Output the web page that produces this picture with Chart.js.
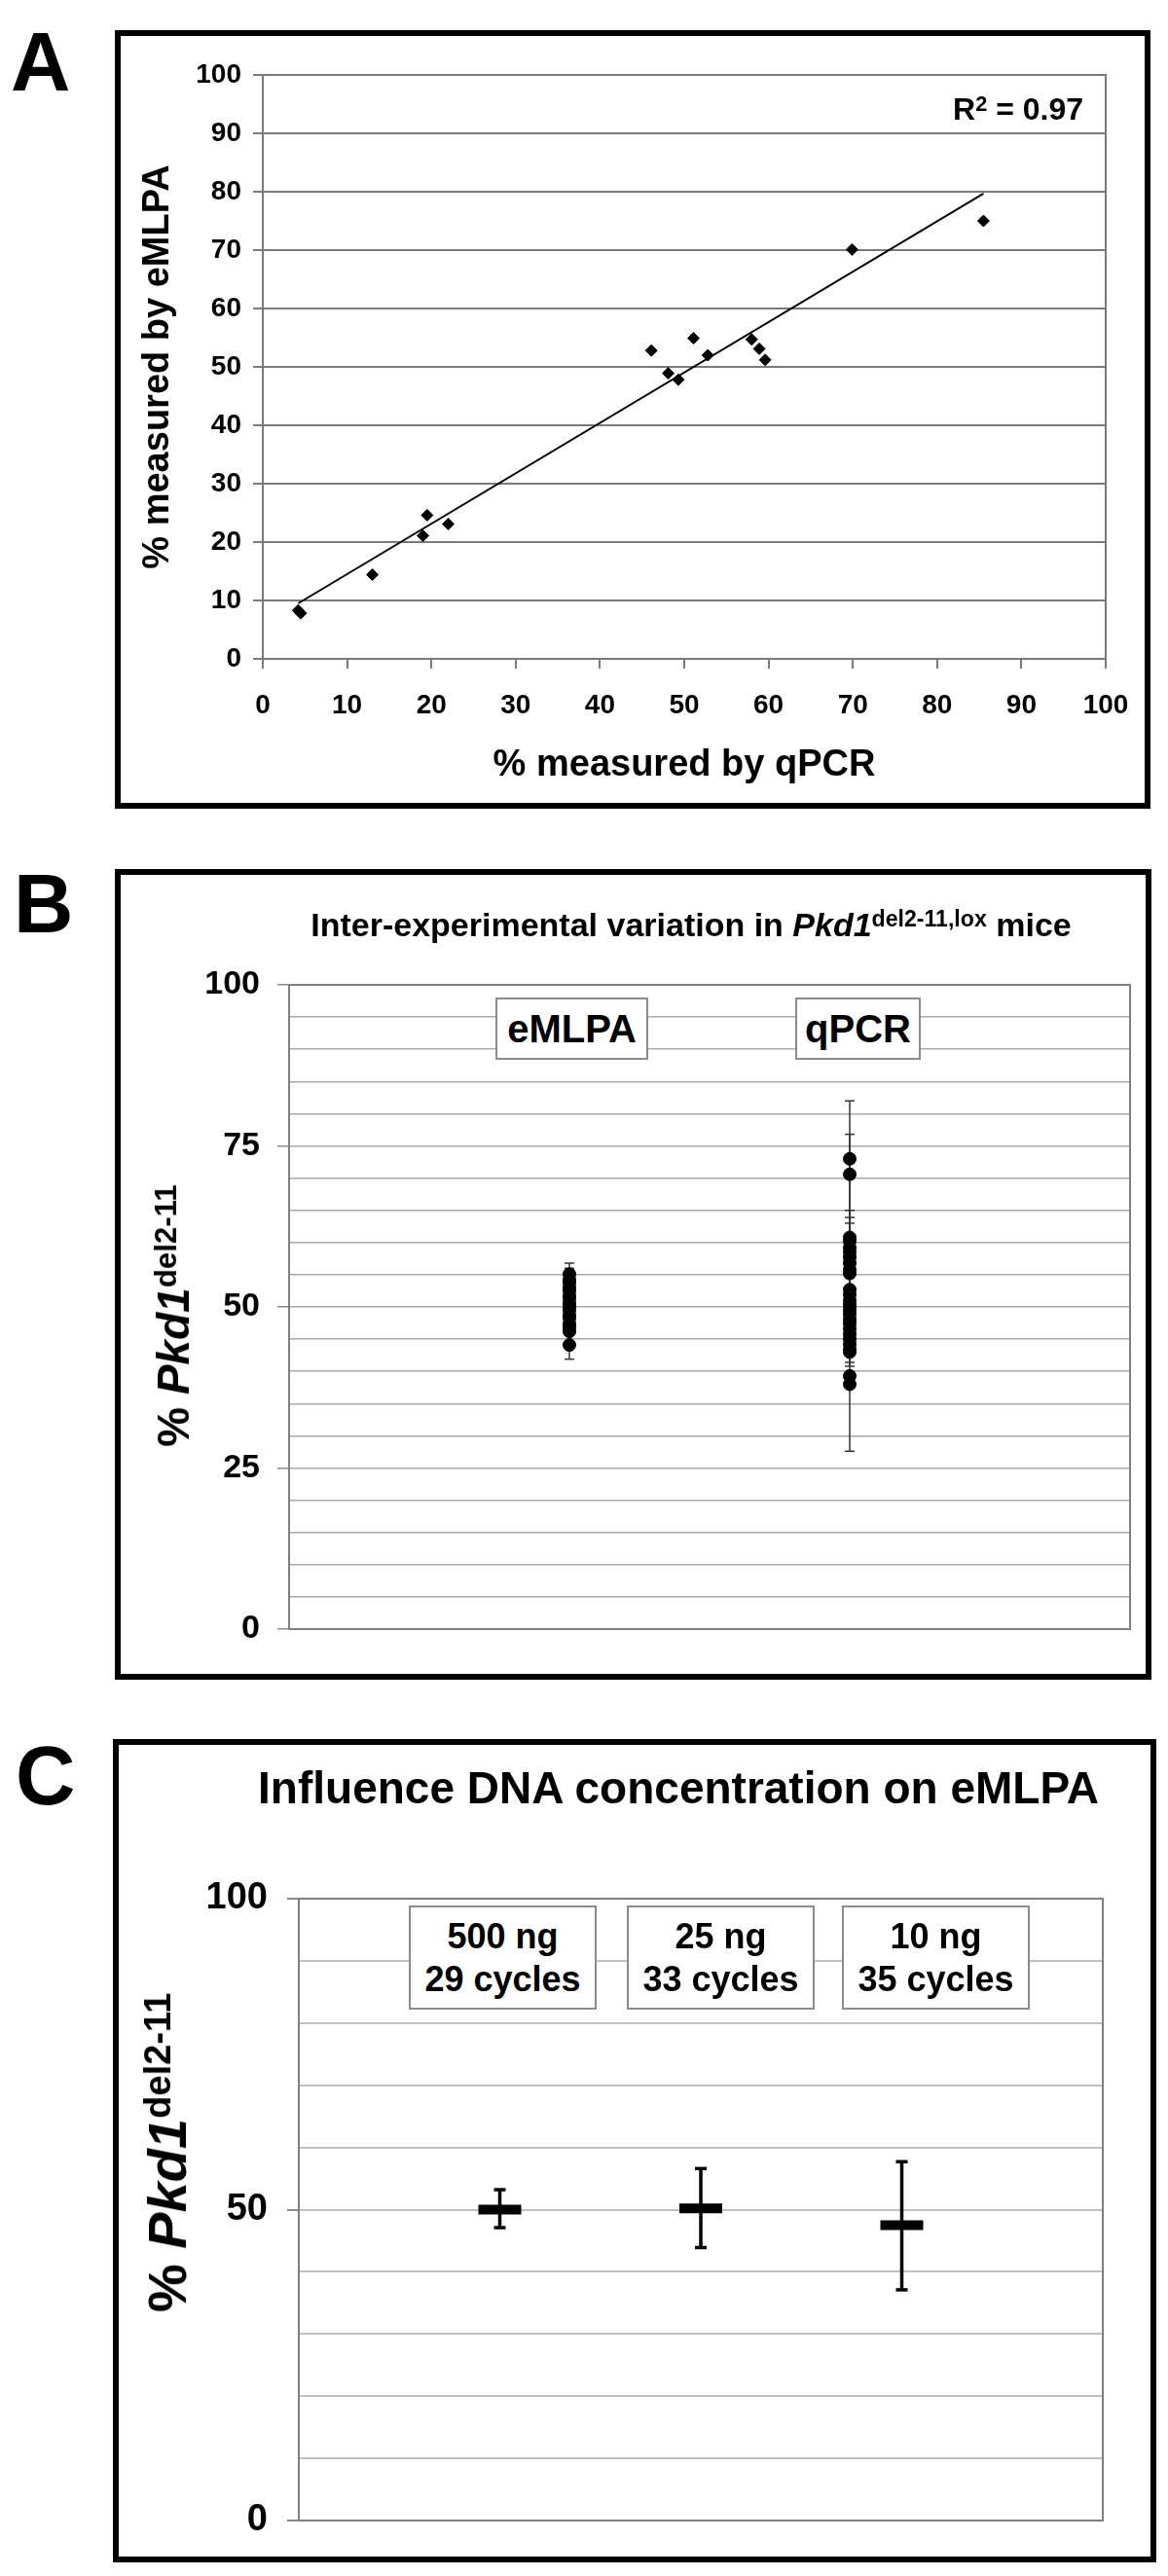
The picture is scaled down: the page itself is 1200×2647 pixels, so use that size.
<!DOCTYPE html>
<html>
<head>
<meta charset="utf-8">
<script src="https://cdn.jsdelivr.net/npm/chart.js@4.4.1/dist/chart.umd.min.js"></script>
<style>
  body { margin: 0; background: #fff; }
  #page { position: relative; width: 1200px; height: 2647px; font-family: "Liberation Sans", Arial, sans-serif; font-weight: bold; color: #000; }
  .frame { position: absolute; border: 6px solid #000; box-sizing: border-box; }
  .wrap { position: absolute; left: 0; width: 1200px; }
  .letter { position: absolute; font-size: 85px; line-height: 1; }
  .txt { position: absolute; line-height: 1; white-space: nowrap; transform: translate(-50%, -50%); }
  .rot { transform: translate(-50%, -50%) rotate(-90deg); }
  .box { position: absolute; background: #fff; border: 2px solid #8c8c8c; box-sizing: border-box; text-align: center;
         display: flex; flex-direction: column; justify-content: center; white-space: nowrap; }
  sup { font-size: 0.68em; vertical-align: 0.42em; line-height: 0; }
</style>
</head>
<body>
<div id="page">
  <div class="frame" style="left:118px;top:31px;width:1064px;height:800px"></div>
  <div class="frame" style="left:118px;top:893px;width:1065px;height:833px"></div>
  <div class="frame" style="left:116px;top:1787px;width:1072px;height:846px"></div>

  <div class="wrap" style="top:0;height:840px"><canvas id="chartA" width="1200" height="840"></canvas></div>
  <div class="wrap" style="top:880px;height:860px"><canvas id="chartB" width="1200" height="860"></canvas></div>
  <div class="wrap" style="top:1760px;height:887px"><canvas id="chartC" width="1200" height="887"></canvas></div>

  <div class="letter" style="left:11px;top:21px">A</div>
  <div class="letter" style="left:14px;top:886px">B</div>
  <div class="letter" style="left:16px;top:1782px">C</div>

  <div class="txt" style="left:1046px;top:112px;font-size:32px">R<sup>2</sup> = 0.97</div>

  <div class="txt" style="left:710px;top:950px;font-size:34px">Inter-experimental variation in <i>Pkd1</i><sup>del2-11,lox</sup> mice</div>
  <div class="txt rot" style="left:178px;top:1352px;font-size:46px">% <i>Pkd1</i><sup>del2-11</sup></div>

  <div class="txt" style="left:697px;top:1837px;font-size:46px">Influence DNA concentration on eMLPA</div>
  <div class="txt rot" style="left:172px;top:2212px;font-size:56px">% <i>Pkd1</i><sup>del2-11</sup></div>
  <div id="boxes"></div>
</div>

<script>
// Panel A: eMLPA vs qPCR, one point per sample
const qpcrPct = [4.2, 4.5, 13.0, 19.0, 19.5, 22.0, 46.1, 48.1, 49.3, 51.1, 52.8, 58.0, 58.9, 59.6, 69.9, 85.5];
const emlpaPct = [8.3, 7.8, 14.4, 21.1, 24.6, 23.1, 52.8, 48.9, 47.8, 54.9, 52.0, 54.7, 53.1, 51.2, 70.1, 75.0];
// trend line end points
const trendQpcr = [4.2, 85.5];
const trendEmlpa = [9.5, 79.7];

// Panel B: repeated measurements per method
const methods = ['eMLPA', 'qPCR'];
const emlpaRuns = [55.1, 54.2, 53.8, 53.0, 52.5, 51.7, 51.4, 50.6, 50.1, 49.5, 48.7, 48.3, 47.4, 46.9, 46.2, 44.1];
const qpcrRuns = [73.0, 70.6, 60.8, 60.2, 59.2, 58.5, 57.7, 56.8, 55.8, 55.2, 52.7, 51.9, 51.0, 50.3, 49.6,
                  48.9, 48.1, 47.4, 46.6, 45.8, 45.0, 44.2, 43.4, 43.0, 39.3, 38.0];
const emlpaBars = [[41.9, 56.8], [44.6, 56.0]];
const qpcrBars = [[27.6, 82.0], [40.8, 76.8], [41.4, 65.0], [44.9, 63.9], [46.3, 63.0]];
const labelsB = [0, 25, 50, 75, 100];

// Panel C: DNA input vs result
const dnaInput = ['500 ng', '25 ng', '10 ng'];
const pcrCycles = ['29 cycles', '33 cycles', '35 cycles'];
const meanC = [50.0, 50.2, 47.5];
const lowC = [47.1, 43.9, 37.1];
const highC = [53.2, 56.6, 57.7];
const labelsC = [0, 50, 100];

const family = '"Liberation Sans", Arial, sans-serif';
const bold = (size) => ({ size, weight: 'bold', family });

const plotBorder = {
  id: 'plotBorder',
  beforeDatasetsDraw(chart, args, opts) {
    const { ctx, chartArea: a } = chart;
    ctx.save();
    ctx.strokeStyle = opts.color;
    ctx.lineWidth = opts.width;
    ctx.strokeRect(a.left, a.top, a.right - a.left, a.bottom - a.top);
    ctx.restore();
  }
};

const noPad = (s) => { s.paddingLeft = 0; s.paddingRight = 0; s.paddingTop = 0; s.paddingBottom = 0; };
const fixWidth = (w) => (s) => { noPad(s); s.width = w; };
const fixHeight = (h) => (s) => { noPad(s); s.height = h; };

const errorBar = (x, lo, hi, color, width, cap) => ({
  data: [{ x, y: lo }, { x, y: hi }],
  showLine: true, borderColor: color, borderWidth: width,
  pointStyle: 'line', pointRadius: cap, pointBorderColor: color, pointBorderWidth: width,
  order: 1
});

const base = {
  responsive: false,
  animation: false,
  events: [],
};

// ---- A ----
new Chart(document.getElementById('chartA'), {
  type: 'scatter',
  data: {
    datasets: [
      {
        data: qpcrPct.map((x, i) => ({ x, y: emlpaPct[i] })),
        pointStyle: 'rectRot', pointRadius: 6, backgroundColor: '#000', borderColor: '#000', order: 0
      },
      {
        data: trendQpcr.map((x, i) => ({ x, y: trendEmlpa[i] })),
        showLine: true, borderColor: '#000', borderWidth: 2, pointRadius: 0, order: 1
      }
    ]
  },
  options: {
    ...base,
    layout: { padding: { left: 130, right: 64, top: 77, bottom: 20 } },
    plugins: { legend: { display: false }, tooltip: { enabled: false }, plotBorder: { color: '#7a7a7a', width: 2 } },
    scales: {
      x: {
        type: 'linear', min: 0, max: 100, afterFit: fixHeight(143),
        ticks: { stepSize: 10, color: '#000', font: bold(28), padding: 21, maxRotation: 0 },
        grid: { drawOnChartArea: false, tickLength: 10, tickColor: '#7a7a7a', lineWidth: 2 },
        border: { color: '#7a7a7a', width: 2 },
        title: { display: true, text: '% measured by qPCR', color: '#000', font: bold(38), padding: { top: 0, bottom: 11 } }
      },
      y: {
        min: 0, max: 100, afterFit: fixWidth(140),
        ticks: { stepSize: 10, color: '#000', font: bold(28), padding: 12 },
        grid: { color: '#7a7a7a', lineWidth: 2, tickLength: 10, tickColor: '#7a7a7a' },
        border: { color: '#7a7a7a', width: 2 },
        title: { display: true, text: '% measured by eMLPA', color: '#000', font: bold(38), padding: { top: 10, bottom: 0 } }
      }
    }
  },
  plugins: [plotBorder]
});

// ---- B ----
const dsB = [
  { data: emlpaRuns.map(y => ({ x: 1, y })), pointRadius: 6.5, backgroundColor: '#000', borderColor: '#000', order: 0 },
  { data: qpcrRuns.map(y => ({ x: 2, y })), pointRadius: 6.5, backgroundColor: '#000', borderColor: '#000', order: 0 },
  ...emlpaBars.map(b => errorBar(1, b[0], b[1], '#333', 1.5, 5)),
  ...qpcrBars.map(b => errorBar(2, b[0], b[1], '#333', 1.5, 5))
];
new Chart(document.getElementById('chartB'), {
  type: 'scatter',
  data: { datasets: dsB },
  options: {
    ...base,
    layout: { padding: { left: 97, right: 39, top: 132, bottom: 66 } },
    plugins: { legend: { display: false }, tooltip: { enabled: false }, plotBorder: { color: '#808080', width: 2 } },
    scales: {
      x: {
        type: 'linear', min: 0, max: 3, afterFit: fixHeight(0),
        ticks: { display: false },
        grid: { drawOnChartArea: false, drawTicks: false },
        border: { color: '#808080', width: 2 }
      },
      y: {
        min: 0, max: 100, afterFit: fixWidth(200),
        ticks: { stepSize: 5, autoSkip: false, color: '#000', font: bold(34), padding: 18,
                 callback: v => labelsB.includes(v) ? v : '' },
        grid: { color: '#a8a8a8', lineWidth: 1.5, tickLength: 12,
                tickColor: c => labelsB.includes(c.tick.value) ? '#8a8a8a' : 'transparent' },
        border: { color: '#808080', width: 2 }
      }
    }
  },
  plugins: [plotBorder]
});

// ---- C ----
const dsC = [
  {
    data: meanC.map((y, i) => ({ x: i + 1, y })),
    pointStyle: 'line', pointRadius: 22, pointBorderWidth: 10, borderColor: '#000', backgroundColor: '#000', order: 0
  },
  ...meanC.map((m, i) => errorBar(i + 1, lowC[i], highC[i], '#000', 3.5, 6))
];
new Chart(document.getElementById('chartC'), {
  type: 'scatter',
  data: { datasets: dsC },
  options: {
    ...base,
    layout: { padding: { left: 107, right: 67, top: 191, bottom: 57 } },
    plugins: { legend: { display: false }, tooltip: { enabled: false }, plotBorder: { color: '#808080', width: 2 } },
    scales: {
      x: {
        type: 'linear', min: 0, max: 4, afterFit: fixHeight(0),
        ticks: { display: false },
        grid: { drawOnChartArea: false, drawTicks: false },
        border: { color: '#808080', width: 2 }
      },
      y: {
        min: 0, max: 100, afterFit: fixWidth(200),
        ticks: { stepSize: 10, autoSkip: false, color: '#000', font: bold(38), padding: 20,
                 callback: v => labelsC.includes(v) ? v : '' },
        grid: { color: '#c0c0c0', lineWidth: 2, tickLength: 12,
                tickColor: c => labelsC.includes(c.tick.value) ? '#8a8a8a' : 'transparent' },
        border: { color: '#808080', width: 2 }
      }
    }
  },
  plugins: [plotBorder]
});

// label boxes
const boxes = document.getElementById('boxes');
const addBox = (left, top, w, h, size, lh, lines) => {
  const d = document.createElement('div');
  d.className = 'box';
  Object.assign(d.style, { left: left + 'px', top: top + 'px', width: w + 'px', height: h + 'px',
                           fontSize: size + 'px', lineHeight: lh + 'px' });
  lines.forEach(t => { const s = document.createElement('div'); s.textContent = t; d.appendChild(s); });
  boxes.appendChild(d);
};
addBox(509, 1025, 157, 64, 40, 44, [methods[0]]);
addBox(817, 1025, 129, 64, 40, 44, [methods[1]]);
[420, 644, 865].forEach((left, i) => addBox(left, 1958, 193, 107, 36, 44, [dnaInput[i], pcrCycles[i]]));
</script>
</body>
</html>
